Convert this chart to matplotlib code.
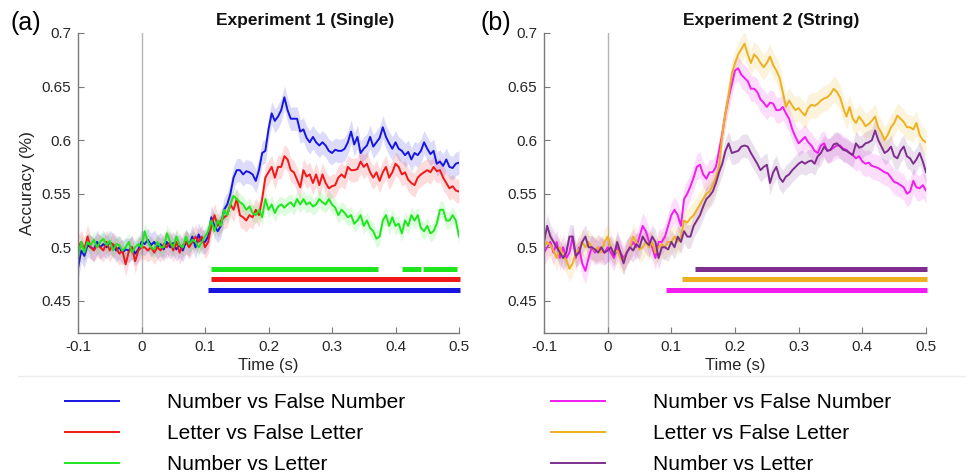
import numpy as np
import matplotlib
matplotlib.use('Agg')
import matplotlib.pyplot as plt
from matplotlib.lines import Line2D

plt.rcParams['font.family'] = ['Liberation Sans', 'DejaVu Sans']

# time axis, 5 ms steps from -0.1 to 0.5 s
time = np.round(np.arange(-0.1, 0.5001, 0.005), 3)

# Experiment 1 (Single)
num_vs_false_num_1 = [
    0.48, 0.497, 0.492, 0.502, 0.5, 0.498, 0.505, 0.5, 0.503, 0.5,
    0.505, 0.502, 0.497, 0.5, 0.495, 0.498, 0.497, 0.5, 0.494, 0.498,
    0.505, 0.503, 0.507, 0.502, 0.505, 0.5, 0.503, 0.498, 0.505, 0.5,
    0.504, 0.498, 0.502, 0.497, 0.505, 0.502, 0.51, 0.5, 0.512, 0.505,
    0.505, 0.51, 0.528, 0.52, 0.515, 0.52, 0.535, 0.54, 0.55, 0.565,
    0.572, 0.572, 0.568, 0.571, 0.57, 0.568, 0.562, 0.572, 0.588, 0.59,
    0.61, 0.625, 0.618, 0.622, 0.628, 0.64, 0.628, 0.62, 0.62, 0.62,
    0.608, 0.61, 0.602, 0.598, 0.603, 0.598, 0.595, 0.598, 0.595, 0.59,
    0.588, 0.591, 0.59, 0.59, 0.592, 0.598, 0.608, 0.596, 0.603, 0.588,
    0.592, 0.595, 0.603, 0.594, 0.598, 0.602, 0.612, 0.603, 0.597, 0.592,
    0.598, 0.592, 0.59, 0.586, 0.589, 0.582, 0.588, 0.586, 0.59, 0.598,
    0.592, 0.587, 0.59, 0.578, 0.58, 0.576, 0.582, 0.575, 0.574, 0.578,
    0.579]
let_vs_false_let_1 = [
    0.5, 0.505, 0.498, 0.51, 0.5, 0.497, 0.502, 0.5, 0.497, 0.505,
    0.497, 0.503, 0.5, 0.494, 0.497, 0.484, 0.496, 0.5, 0.487, 0.497,
    0.5, 0.5, 0.497, 0.5, 0.495, 0.5, 0.497, 0.503, 0.5, 0.505,
    0.497, 0.505, 0.495, 0.502, 0.505, 0.5, 0.505, 0.51, 0.505, 0.51,
    0.5, 0.505, 0.52, 0.53, 0.52, 0.525, 0.528, 0.53, 0.54, 0.535,
    0.545, 0.53, 0.528, 0.525, 0.53, 0.528, 0.535, 0.53, 0.545, 0.565,
    0.57, 0.575, 0.565, 0.575, 0.575, 0.585, 0.582, 0.572, 0.57, 0.563,
    0.556, 0.572, 0.566, 0.568, 0.56, 0.568, 0.558, 0.568, 0.56, 0.555,
    0.557, 0.558, 0.565, 0.568, 0.565, 0.575, 0.572, 0.572, 0.573, 0.58,
    0.575, 0.578, 0.57, 0.565, 0.57, 0.562, 0.57, 0.575, 0.565, 0.57,
    0.578, 0.575, 0.568, 0.57, 0.563, 0.56, 0.558, 0.565, 0.568, 0.57,
    0.572, 0.57, 0.575, 0.571, 0.572, 0.565, 0.56, 0.555, 0.557, 0.553,
    0.552]
num_vs_let_1 = [
    0.49, 0.505, 0.495, 0.505, 0.502, 0.507, 0.5, 0.505, 0.508, 0.502,
    0.506, 0.497, 0.503, 0.502, 0.497, 0.5, 0.505, 0.495, 0.5, 0.503,
    0.5, 0.515, 0.505, 0.5, 0.498, 0.505, 0.5, 0.5, 0.513, 0.505,
    0.5, 0.51, 0.502, 0.5, 0.51, 0.503, 0.507, 0.505, 0.5, 0.505,
    0.51, 0.515, 0.525, 0.515, 0.525, 0.52, 0.535, 0.53, 0.54, 0.548,
    0.545, 0.542, 0.54, 0.535, 0.538, 0.532, 0.53, 0.535, 0.528, 0.545,
    0.535, 0.54, 0.532, 0.538, 0.54, 0.537, 0.54, 0.542, 0.538, 0.545,
    0.54, 0.545, 0.54, 0.542, 0.538, 0.54, 0.545, 0.542, 0.54, 0.545,
    0.54, 0.537, 0.53, 0.535, 0.532, 0.528, 0.53, 0.522, 0.525, 0.53,
    0.52, 0.525, 0.518, 0.515, 0.508, 0.51, 0.525, 0.53, 0.52, 0.528,
    0.52, 0.522, 0.513, 0.525, 0.52, 0.53, 0.525, 0.53, 0.518, 0.515,
    0.52, 0.513, 0.515, 0.522, 0.535, 0.535, 0.525, 0.525, 0.53, 0.525,
    0.51]

# Experiment 2 (String)
num_vs_false_num_2 = [
    0.495, 0.5, 0.505, 0.495, 0.505, 0.49, 0.5, 0.49, 0.495, 0.51,
    0.49, 0.5, 0.485, 0.478, 0.49, 0.5, 0.495, 0.5, 0.497, 0.495,
    0.5, 0.495, 0.49, 0.5, 0.495, 0.49, 0.495, 0.5, 0.505, 0.5,
    0.51, 0.52, 0.515, 0.505, 0.5, 0.49, 0.505, 0.505, 0.51, 0.52,
    0.53, 0.535, 0.53, 0.52, 0.545, 0.55, 0.557, 0.565, 0.575, 0.577,
    0.568, 0.564, 0.57, 0.57, 0.575, 0.59, 0.606, 0.625, 0.64, 0.652,
    0.665, 0.667, 0.661, 0.658, 0.655, 0.648, 0.648, 0.645, 0.638, 0.635,
    0.631, 0.635, 0.634, 0.628, 0.628, 0.631, 0.625, 0.62, 0.61, 0.603,
    0.597, 0.6, 0.603, 0.598, 0.595, 0.59, 0.588, 0.595, 0.597, 0.59,
    0.591, 0.593, 0.595, 0.595, 0.592, 0.591, 0.588, 0.586, 0.583, 0.585,
    0.58, 0.578, 0.579, 0.576, 0.575, 0.574, 0.572, 0.57, 0.569, 0.565,
    0.561, 0.56, 0.558, 0.556, 0.55, 0.552, 0.562, 0.556, 0.555, 0.558,
    0.553]
let_vs_false_let_2 = [
    0.5, 0.505, 0.502, 0.497, 0.49, 0.5, 0.492, 0.488, 0.48, 0.485,
    0.495, 0.498, 0.505, 0.5, 0.505, 0.5, 0.497, 0.5, 0.495, 0.505,
    0.51, 0.5, 0.495, 0.497, 0.49, 0.487, 0.495, 0.5, 0.51, 0.505,
    0.498, 0.5, 0.505, 0.5, 0.505, 0.495, 0.5, 0.503, 0.5, 0.505,
    0.505, 0.51, 0.505, 0.51, 0.525, 0.523, 0.527, 0.53, 0.535, 0.54,
    0.545, 0.55, 0.552, 0.558, 0.565, 0.575, 0.605, 0.625, 0.642, 0.662,
    0.672, 0.68, 0.685, 0.69, 0.68, 0.672, 0.68, 0.677, 0.672, 0.668,
    0.672, 0.678, 0.67, 0.665, 0.658, 0.645, 0.631, 0.637, 0.632, 0.628,
    0.63, 0.626, 0.623, 0.63, 0.633, 0.632, 0.634, 0.637, 0.639, 0.64,
    0.643, 0.648, 0.645, 0.64, 0.63, 0.622, 0.631, 0.62, 0.616, 0.622,
    0.618, 0.613, 0.615, 0.618, 0.622, 0.612, 0.607, 0.6, 0.605, 0.612,
    0.616, 0.623, 0.62, 0.617, 0.612, 0.612, 0.61, 0.616, 0.605, 0.6,
    0.598]
num_vs_let_2 = [
    0.505, 0.52, 0.51, 0.505, 0.5, 0.495, 0.49, 0.495, 0.51, 0.51,
    0.492, 0.495, 0.505, 0.51, 0.5, 0.5, 0.498, 0.495, 0.5, 0.495,
    0.497, 0.5, 0.493, 0.505, 0.495, 0.485, 0.495, 0.5, 0.497, 0.503,
    0.5, 0.51, 0.505, 0.502, 0.51, 0.505, 0.49, 0.5, 0.5, 0.498,
    0.505, 0.5, 0.51, 0.505, 0.515, 0.51, 0.51, 0.52, 0.525, 0.53,
    0.538, 0.545, 0.548, 0.552, 0.56, 0.57, 0.578, 0.59, 0.597, 0.588,
    0.589, 0.59, 0.594, 0.595, 0.594, 0.588, 0.583, 0.578, 0.572, 0.575,
    0.577, 0.56, 0.57, 0.575, 0.565, 0.561, 0.566, 0.568, 0.572, 0.575,
    0.578, 0.58, 0.578, 0.58, 0.581, 0.578, 0.585, 0.588, 0.594, 0.59,
    0.591, 0.596, 0.597, 0.594, 0.591, 0.59, 0.588, 0.586, 0.597, 0.593,
    0.594, 0.597, 0.598, 0.6, 0.609, 0.6, 0.594, 0.588, 0.59, 0.594,
    0.585, 0.583, 0.59, 0.594, 0.585, 0.583, 0.578, 0.582, 0.588, 0.58,
    0.57]

labels = ['Number vs False Number', 'Letter vs False Letter', 'Number vs Letter']
colors_1 = ['#1616e0', '#f01818', '#1ee61e']
colors_2 = ['#f01cf0', '#edb120', '#7e2f8e']
sem_1 = [0.011, 0.011, 0.008]
sem_2 = [0.012, 0.012, 0.011]

# significant clusters: (level, [(start, end), ...])
sig_1 = [(0.46, [(0.105, 0.502)]),
         (0.47, [(0.11, 0.502)]),
         (0.48, [(0.11, 0.373), (0.41, 0.44), (0.444, 0.497)])]
sig_2 = [(0.46, [(0.092, 0.502)]),
         (0.47, [(0.117, 0.502)]),
         (0.48, [(0.137, 0.502)])]

fig = plt.figure(figsize=(9.66, 4.76), dpi=100)
ax1 = fig.add_axes([78 / 966, 1 - 333 / 476, 381 / 966, 300 / 476])
ax2 = fig.add_axes([544 / 966, 1 - 333 / 476, 382 / 966, 300 / 476])


def draw_panel(ax, series, colors, sems, sig, title):
    ax.axvline(0, color='#b4b4b4', lw=1, zorder=0)
    handles = []
    for y, c, s in zip(series, colors, sems):
        y = np.array(y)
        ax.fill_between(time, y - s, y + s, color=c, alpha=0.15, lw=0)
        h, = ax.plot(time, y, color=c, lw=1.4)
        handles.append(h)
    for (level, segs), c in zip(sig, colors):
        for a, b in segs:
            ax.hlines(level, a, b, color=c, lw=3.6, clip_on=False)
    ax.set_xlim(-0.1, 0.5)
    ax.set_ylim(0.42, 0.7)
    ax.set_xticks([-0.1, 0, 0.1, 0.2, 0.3, 0.4, 0.5])
    ax.set_xticklabels(['-0.1', '0', '0.1', '0.2', '0.3', '0.4', '0.5'])
    ax.set_yticks([0.45, 0.5, 0.55, 0.6, 0.65, 0.7])
    ax.set_yticklabels(['0.45', '0.5', '0.55', '0.6', '0.65', '0.7'])
    for side in ['top', 'right']:
        ax.spines[side].set_visible(False)
    for side in ['left', 'bottom']:
        ax.spines[side].set_color('#7a7a7a')
        ax.spines[side].set_linewidth(1)
    ax.tick_params(direction='in', length=4, color='#7a7a7a', labelsize=11,
                   labelcolor='#262626', pad=5)
    ax.set_xlabel('Time (s)', fontsize=12, color='#262626')
    ax.xaxis.set_label_coords(0.5, -0.083)
    ax.text(0.595, 1.04, title, transform=ax.transAxes, ha='center', va='center',
            fontsize=12.5, fontweight='bold', color='#111111')
    return handles


h1 = draw_panel(ax1, [num_vs_false_num_1, let_vs_false_let_1, num_vs_let_1],
                colors_1, sem_1, sig_1, 'Experiment 1 (Single)')
h2 = draw_panel(ax2, [num_vs_false_num_2, let_vs_false_let_2, num_vs_let_2],
                colors_2, sem_2, sig_2, 'Experiment 2 (String)')

ax1.set_ylabel('Accuracy (%)', fontsize=12.5, color='#262626')
ax1.yaxis.set_label_coords(-0.112, 0.5)

fig.text(10 / 966, 1 - 23 / 476, '(a)', fontsize=18, va='center', ha='left')
fig.text(480 / 966, 1 - 23 / 476, '(b)', fontsize=18, va='center', ha='left')

# faint separator above legend
fig.add_artist(Line2D([18 / 966, 1], [1 - 376 / 476] * 2, color='#ececec', lw=1))

for handles, x0 in [(h1, 65 / 966), (h2, 551 / 966)]:
    fig.legend(handles, labels, loc='upper left', bbox_to_anchor=(x0, 1 - 393 / 476),
               frameon=False, fontsize=15, handlelength=2.6, handletextpad=2.3,
               labelspacing=0.58, borderpad=0, borderaxespad=0)

fig.savefig('out.png', dpi=100)
